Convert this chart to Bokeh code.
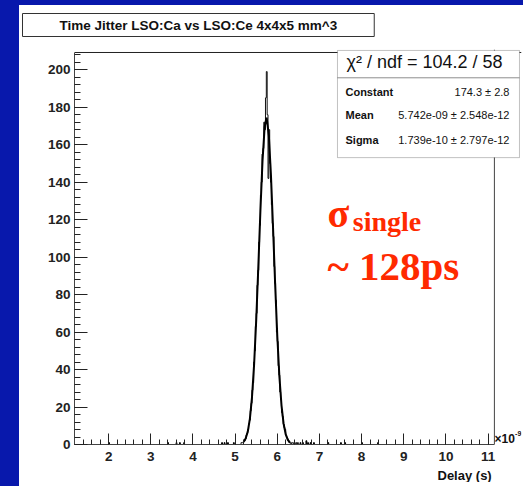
from bokeh.plotting import figure
from bokeh.models import (Range1d, SingleIntervalTicker, BoxAnnotation, Label, Span, Title,
                          GlobalInlineStyleSheet)
from bokeh.embed import file_html
from bokeh.resources import INLINE

# ---------------- data (delay in units of 1e-9 s) ----------------
bin_start = 5.10
bin_width = 0.02
counts = [0, 0, 1, 1, 1, 2, 2, 3, 5, 6, 8, 11, 13, 18, 22, 29, 33, 44, 50, 63,
          70, 85, 93, 108, 117, 133, 140, 155, 158, 172, 168, 185, 199, 176, 142,
          168, 150, 140, 128, 118, 111, 95, 86, 77, 60, 55, 42, 37, 28, 24,
          17, 15, 11, 9, 8, 5, 4, 3, 2, 1, 1, 0, 1, 1, 0, 1, 0, 1, 0, 1]

sparse_centers = [2.01, 3.41, 3.61, 3.69, 3.79, 4.69, 4.75, 4.83, 4.97,
                  6.55, 6.61, 6.69, 6.73, 6.79, 6.87, 7.21, 7.51, 7.61, 8.01, 8.39]
sparse_counts = [1, 1, 1, 1, 1, 1, 1, 1, 1, 1, 1, 2, 1, 1, 1, 1, 1, 1, 1, 1]

fit_x = [5.20, 5.25, 5.30, 5.35, 5.40, 5.45, 5.50, 5.55, 5.60, 5.65, 5.70, 5.742,
         5.75, 5.80, 5.85, 5.90, 5.95, 6.00, 6.05, 6.10, 6.15, 6.20, 6.25, 6.30]
fit_y = [1.4, 3.2, 6.9, 13.7, 25.2, 42.6, 66.2, 94.7, 124.9, 151.5, 169.3, 174.3,
         174.1, 164.9, 143.7, 115.4, 85.2, 58.0, 36.3, 20.9, 11.1, 5.4, 2.5, 1.0]

x_axis_min, x_axis_max = 1.19, 11.15
y_axis_max = 209.2

title_text = "Time Jitter LSO:Ca vs LSO:Ce 4x4x5 mm^3"
chi_text = "\u03c7\u00b2 / ndf = 104.2 / 58"
stat_names = ["Constant", "Mean", "Sigma"]
stat_values = ["174.3 \u00b1 2.8", "5.742e-09 \u00b1 2.548e-12", "1.739e-10 \u00b1 2.797e-12"]
x_label = "Delay (s)"

SANS = "Liberation Sans"
INK = "#111111"
SLIDE_BLUE = "#0818ac"

css = GlobalInlineStyleSheet(css=(
    "html{background:linear-gradient(to right,%s 0px,%s 19px,#ffffff 19px);overflow:hidden}"
    "body{background:transparent;overflow:hidden;margin:-4px 0 0 19px;}"
    "body::before{content:'';position:fixed;left:0;top:0;right:0;height:5px;"
    "background:%s;z-index:1000}" % (SLIDE_BLUE, SLIDE_BLUE, SLIDE_BLUE)))

p = figure(width=504, height=490, output_backend="svg", toolbar_location=None,
           x_range=Range1d(1.19, 11.793), y_range=Range1d(0, 210.8))
p.stylesheets = [css]
p.min_border_left = 55
p.min_border_right = 2
p.min_border_top = 53
p.min_border_bottom = 42
p.background_fill_color = "white"
p.border_fill_color = "white"
p.outline_line_color = None
p.xgrid.visible = False
p.ygrid.visible = False

for ax, interval, maj, mnr, standoff, bnds in ((p.xaxis[0], 1, 11, 5, 7, (x_axis_min, x_axis_max)),
                                              (p.yaxis[0], 20, 13, 6, 4, (0, y_axis_max))):
    ax.ticker = SingleIntervalTicker(interval=interval, num_minor_ticks=5)
    ax.bounds = bnds
    ax.major_tick_in = maj
    ax.major_tick_out = 0
    ax.minor_tick_in = mnr
    ax.minor_tick_out = 0
    ax.major_tick_line_color = "#222222"
    ax.minor_tick_line_color = "#222222"
    ax.axis_line_color = "#444444"
    ax.major_label_text_font = SANS
    ax.major_label_text_font_style = "bold"
    ax.major_label_text_font_size = "13.5px"
    ax.major_label_text_color = "#222222"
    ax.major_label_standoff = standoff

# frame lines (right / top) of the histogram pad
p.add_layout(Span(location=x_axis_max, dimension="height", line_color="#444444", line_width=1))
p.add_layout(Span(location=y_axis_max, dimension="width", line_color="#222222", line_width=1))

# histogram (step outline)
edges = [bin_start + i * bin_width for i in range(len(counts) + 1)]
p.step(x=edges, y=counts + [0], mode="after", line_color=INK, line_width=1)
p.quad(left=[c - bin_width / 2 for c in sparse_centers],
       right=[c + bin_width / 2 for c in sparse_centers],
       bottom=0, top=sparse_counts, fill_color="black", line_color="black", line_width=1)

# gaussian fit
p.line(fit_x, fit_y, line_color="black", line_width=2)

# stats box
p.add_layout(BoxAnnotation(left=7.428, right=11.745, bottom=153.1, top=210.3, fill_color="white",
                           fill_alpha=1, line_color="#333333", line_width=1))
p.add_layout(BoxAnnotation(left=7.428, right=11.745, bottom=195.7, top=195.7, fill_alpha=0,
                           line_color="#333333", line_width=1))
p.add_layout(Label(x=9.492, y=203.9, text=chi_text, text_align="center", text_baseline="middle",
                   text_font=SANS, text_font_size="18px", text_color=INK))
for name, val, yy in zip(stat_names, stat_values, [187.9, 175.6, 162.3]):
    p.add_layout(Label(x=7.618, y=yy, text=name, text_align="left", text_baseline="middle",
                       text_font=SANS, text_font_style="bold", text_font_size="11px",
                       text_color=INK))
    p.add_layout(Label(x=11.508, y=yy, text=val, text_align="right", text_baseline="middle",
                       text_font=SANS, text_font_size="11px", text_color=INK))

# axis exponent
p.add_layout(Label(x=11.152, y=2.7, text="\u00d710", text_align="left", text_baseline="middle",
                   text_font=SANS, text_font_style="bold", text_font_size="12px",
                   text_color=INK))
p.add_layout(Label(x=11.64, y=5.8, text="-9", text_align="left", text_baseline="middle",
                   text_font=SANS, text_font_style="bold", text_font_size="7px",
                   text_color=INK))

# red annotation
RED = "#ff2a00"
p.add_layout(Label(x=7.19, y=123.3, text="\u03c3", text_align="left", text_baseline="alphabetic",
                   text_font="Liberation Serif", text_font_style="bold", text_font_size="40px",
                   text_color=RED))
p.add_layout(Label(x=7.79, y=119.0, text="single", text_align="left", text_baseline="alphabetic",
                   text_font="Liberation Serif", text_font_style="bold", text_font_size="28px",
                   text_color=RED))
p.add_layout(Label(x=7.19, y=95.5, text="~ 128ps", text_align="left", text_baseline="alphabetic",
                   text_font="Liberation Serif", text_font_style="bold", text_font_size="41px",
                   text_color=RED))

# histogram title (boxed) and x axis title
p.add_layout(Title(text=title_text, align="left", offset=-52, standoff=26,
                   text_font=SANS, text_font_style="bold", text_font_size="13.5px",
                   text_color=INK, border_line_color="#333333", border_line_width=1,
                   background_fill_color="white", padding=(37, 4)), "above")
p.add_layout(Title(text=x_label, align="left", offset=363, standoff=4,
                   text_font=SANS, text_font_style="bold", text_font_size="13px",
                   text_color=INK), "below")

open("out.html", "w").write(file_html(p, INLINE))
